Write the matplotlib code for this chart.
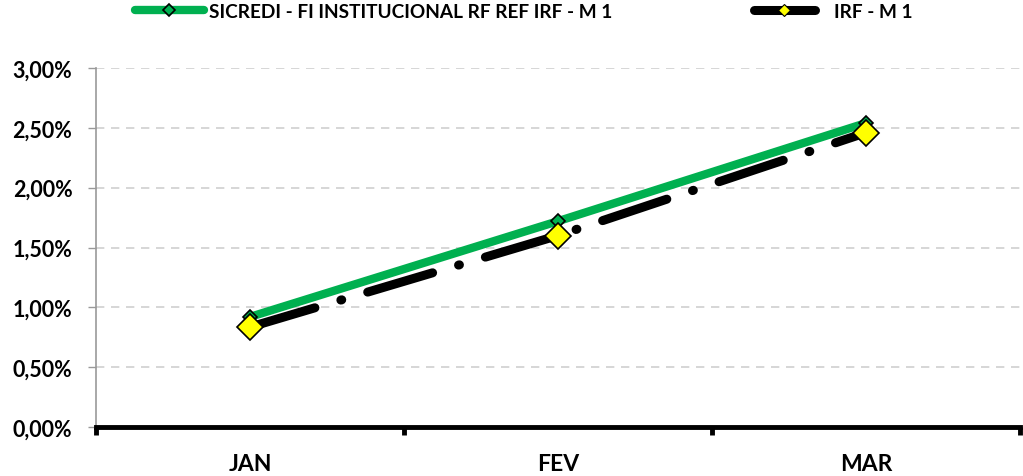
import matplotlib
matplotlib.use("Agg")
import matplotlib.pyplot as plt
from matplotlib.lines import Line2D
from matplotlib.ticker import FuncFormatter

plt.rcParams['font.family'] = ['Lato', 'DejaVu Sans']
plt.rcParams['font.weight'] = 'bold'

months = ['JAN', 'FEV', 'MAR']
fundo = [0.92, 1.72, 2.54]
irf = [0.835, 1.60, 2.46]
fundo_label = 'SICREDI - FI INSTITUCIONAL RF REF IRF - M 1'
irf_label = 'IRF - M 1'

fig = plt.figure(figsize=(10.23, 4.77), dpi=100)
ax = fig.add_axes([96 / 1023, 49 / 477, 924 / 1023, 359 / 477])

x = list(range(len(months)))
green = '#00b050'
ax.plot(x, fundo, color=green, lw=6, solid_capstyle='round', marker='D',
        markersize=7, markerfacecolor=green, markeredgecolor='black',
        markeredgewidth=1.2, zorder=3)
ax.plot(x, irf, color='black', lw=6.5, linestyle=(0, (7.5, 3, 0.1, 3)),
        dash_capstyle='round', marker='D', markersize=13,
        markerfacecolor='#ffff00', markeredgecolor='black',
        markeredgewidth=1.2, zorder=4)

ax.set_xlim(-0.5, 2.5)
ax.set_ylim(0, 3)
ax.set_yticks([0, 0.5, 1, 1.5, 2, 2.5, 3])
ax.yaxis.set_major_formatter(FuncFormatter(lambda v, p: f'{v:.2f}%'.replace('.', ',')))
ax.set_xticks(x)
ax.set_xticklabels(months)
ax.set_xticks([-0.5, 0.5, 1.5, 2.5], minor=True)

ax.grid(axis='y', color='#d0d0d0', linestyle=(0, (5, 4)), lw=1.2)
ax.set_axisbelow(True)
for s in ['top', 'right']:
    ax.spines[s].set_visible(False)
ax.spines['left'].set_color('#999999')
ax.spines['left'].set_linewidth(1.2)
ax.spines['bottom'].set_color('black')
ax.spines['bottom'].set_linewidth(3.5)

ax.tick_params(axis='y', colors='#999999', length=6, width=1, labelsize=15.5,
               labelcolor='black', pad=11)
ax.tick_params(axis='x', which='major', length=0, labelsize=16.5, pad=19)
ax.tick_params(axis='x', which='minor', length=6, width=3.5, color='black',
               direction='out')

h1 = Line2D([], [], color=green, lw=6, solid_capstyle='round', marker='D',
            markersize=6, markerfacecolor=green, markeredgecolor='black',
            markeredgewidth=1.2)
h2 = Line2D([], [], color='black', lw=6.5, solid_capstyle='round', marker='D',
            markersize=6, markerfacecolor='#ffff00', markeredgecolor='black',
            markeredgewidth=0.8)
fig.legend([h1], [fundo_label], loc='center left', bbox_to_anchor=(135 / 1023, 1 - 12 / 477),
           frameon=False, fontsize=13.7, handlelength=3.6, handletextpad=0.3,
           borderpad=0, borderaxespad=0)
fig.legend([h2], [irf_label], loc='center left', bbox_to_anchor=(754 / 1023, 1 - 12 / 477),
           frameon=False, fontsize=13.7, handlelength=3.2, handletextpad=1.0,
           borderpad=0, borderaxespad=0)

fig.savefig('out.png', dpi=100)
